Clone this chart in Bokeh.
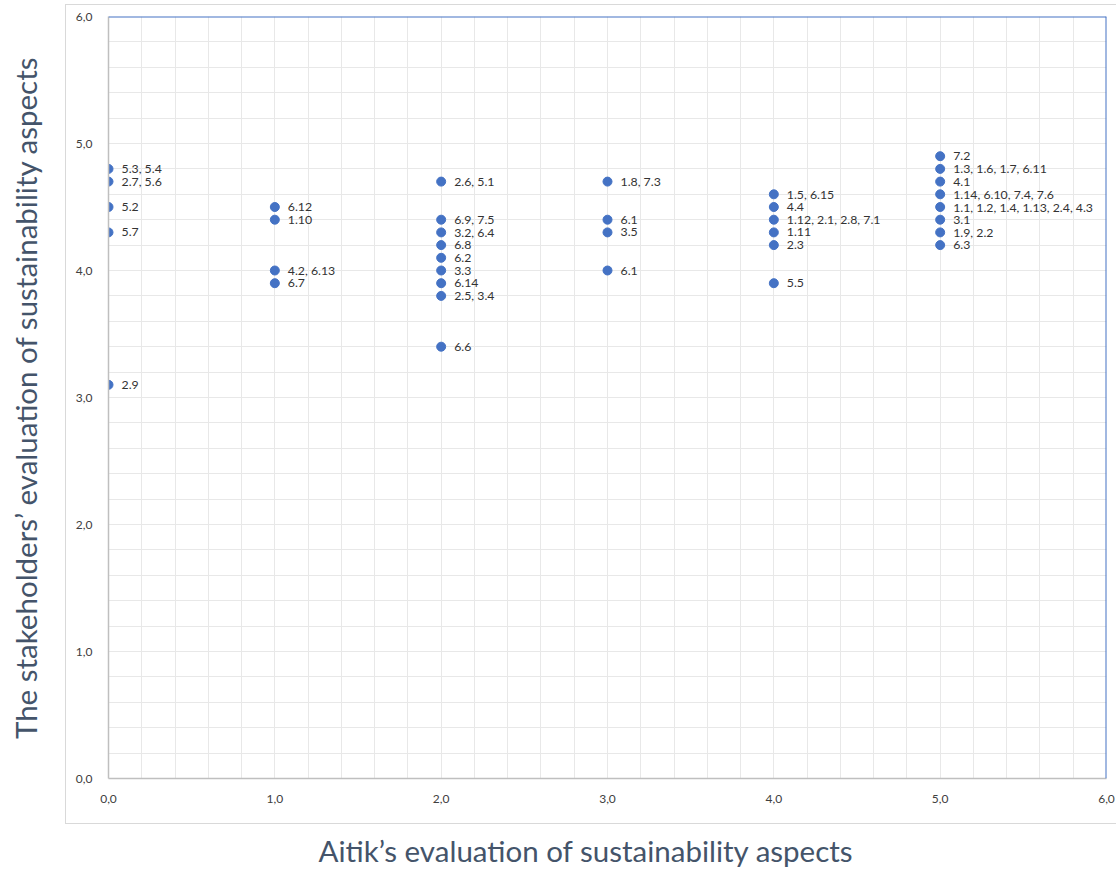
from bokeh.plotting import figure
from bokeh.models import (SingleIntervalTicker, CustomJSTickFormatter, Span,
                          ColumnDataSource, Range1d, InlineStyleSheet, Title)
from bokeh.core.properties import value
from bokeh.embed import file_html
from bokeh.resources import INLINE

# ---- data ----
aitik = [0, 0, 0, 0, 0,
         1, 1, 1, 1,
         2, 2, 2, 2, 2, 2, 2, 2, 2,
         3, 3, 3, 3,
         4, 4, 4, 4, 4, 4,
         5, 5, 5, 5, 5, 5, 5, 5]
stakeholders = [4.8, 4.7, 4.5, 4.3, 3.1,
                4.5, 4.4, 4.0, 3.9,
                4.7, 4.4, 4.3, 4.2, 4.1, 4.0, 3.9, 3.8, 3.4,
                4.7, 4.4, 4.3, 4.0,
                4.6, 4.5, 4.4, 4.3, 4.2, 3.9,
                4.9, 4.8, 4.7, 4.6, 4.5, 4.4, 4.3, 4.2]
labels = ["5.3, 5.4", "2.7, 5.6", "5.2", "5.7", "2.9",
          "6.12", "1.10", "4.2, 6.13", "6.7",
          "2.6, 5.1", "6.9, 7.5", "3.2, 6.4", "6.8", "6.2", "3.3", "6.14", "2.5, 3.4", "6.6",
          "1.8, 7.3", "6.1", "3.5", "6.1",
          "1.5, 6.15", "4.4", "1.12, 2.1, 2.8, 7.1", "1.11", "2.3", "5.5",
          "7.2", "1.3, 1.6, 1.7, 6.11", "4.1", "1.14, 6.10, 7.4, 7.6",
          "1.1, 1.2, 1.4, 1.13, 2.4, 4.3", " 3.1", "1.9, 2.2", "6.3"]

x_title = "Aitik\u2019s evaluation of sustainability aspects"
y_title = "The stakeholders\u2019 evaluation of sustainability aspects"

src = ColumnDataSource(dict(x=aitik, y=stakeholders, label=labels))

BLUE = "#4472C4"
TITLE_COLOR = "#44546A"
FONT = "Lato"

border_css = InlineStyleSheet(css="""
:host::after {
  content: '';
  position: absolute;
  left: 65px; right: 0px; top: 4px; height: 818px;
  border-left: 1.5px solid #D9D9D9;
  border-top: 1.5px solid #D9D9D9;
  border-bottom: 1.5px solid #D9D9D9;
  pointer-events: none;
}
""")

p = figure(width=1116, height=868, output_backend="svg", toolbar_location=None,
           x_range=Range1d(0, 6), y_range=Range1d(0, 6),
           min_border_left=108, min_border_right=10, min_border_top=16,
           min_border_bottom=0, stylesheets=[border_css])
p.outline_line_color = None
p.background_fill_color = "white"
p.border_fill_color = "white"

fmt = CustomJSTickFormatter(code="return tick.toFixed(1).replace('.', ',');")
for ax in (p.xaxis[0], p.yaxis[0]):
    ax.ticker = SingleIntervalTicker(interval=1, num_minor_ticks=0)
    ax.formatter = fmt
    ax.major_tick_line_color = None
    ax.minor_tick_line_color = None
    ax.axis_line_color = "#BFBFBF"
    ax.axis_line_width = 1.5
    ax.major_label_text_font = FONT
    ax.major_label_text_font_size = "12px"
    ax.major_label_text_color = "#404040"
    ax.major_label_standoff = 10
    ax.axis_label_text_font = FONT
    ax.axis_label_text_font_size = "29.5px"
    ax.axis_label_text_font_style = "normal"
    ax.axis_label_text_color = TITLE_COLOR

p.yaxis.axis_label = y_title
p.yaxis.axis_label_standoff = 30

# spacing panel between the x tick labels and the x-axis title
p.add_layout(Title(text=" ", text_font_size="12px", standoff=8), "below")
# x-axis title, placed a little left of centre as in the original
p.add_layout(Title(text=x_title, align="left", offset=210, standoff=2,
                   vertical_align="bottom",
                   text_font=FONT, text_font_size="29.5px",
                   text_font_style="normal", text_color=TITLE_COLOR), "below")

for g in (p.xgrid[0], p.ygrid[0]):
    g.ticker = SingleIntervalTicker(interval=0.2, num_minor_ticks=0)
    g.grid_line_color = "#E8E8E8"
    g.grid_line_width = 1

# blue top and right border of the plot area
p.add_layout(Span(location=6, dimension="width", line_color=BLUE, line_width=2))
p.add_layout(Span(location=6, dimension="height", line_color=BLUE, line_width=2))

p.scatter("x", "y", source=src, size=9, fill_color=BLUE, line_color=BLUE)
p.text("x", "y", text="label", source=src, x_offset=13, text_baseline="middle",
       text_align="left", text_font=value(FONT), text_font_size="12.3px",
       text_color="#333333")

open("out.html", "w").write(file_html(p, INLINE))
